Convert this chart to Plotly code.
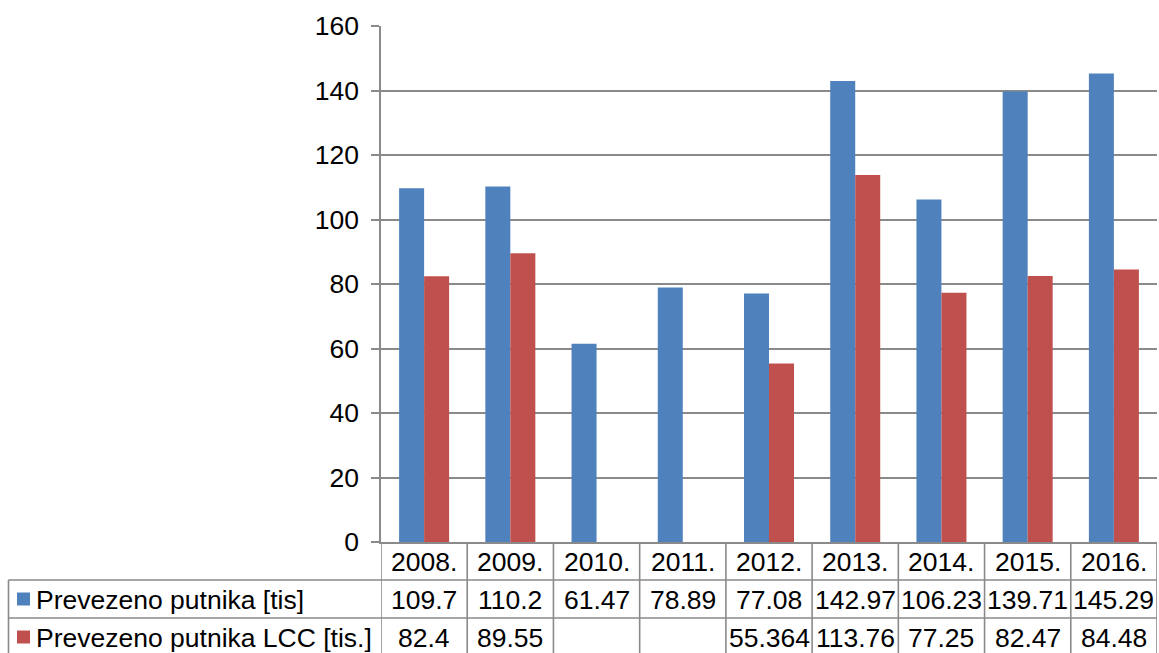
import plotly.graph_objects as go

categories = ["2008.", "2009.", "2010.", "2011.", "2012.", "2013.", "2014.", "2015.", "2016."]
series1_name = "Prevezeno putnika [tis]"
series1 = [109.7, 110.2, 61.47, 78.89, 77.08, 142.97, 106.23, 139.71, 145.29]
series2_name = "Prevezeno putnika LCC [tis.]"
series2 = [82.4, 89.55, None, None, 55.364, 113.76, 77.25, 82.47, 84.48]
y_ticks = [0, 20, 40, 60, 80, 100, 120, 140, 160]

BLUE = "#4F81BD"
RED = "#C0504D"
GRID = "#8a8a8a"
FONT = "Liberation Sans, Arial, sans-serif"
FS = 26.5

W, H = 1159, 653
ML, MR, MT, MB = 381, 2, 26, 653 - 542
PW = W - ML - MR
PH = H - MT - MB


def py(scr_y):
    # screen pixel y -> paper y
    return (H - MB - scr_y) / PH


def px(scr_x):
    return (scr_x - ML) / PW


fig = go.Figure()
fig.add_trace(go.Bar(x=categories, y=series1, name=series1_name, marker_color=BLUE,
                     marker_line_width=0))
fig.add_trace(go.Bar(x=categories, y=series2, name=series2_name, marker_color=RED,
                     marker_line_width=0))

shapes = []
line = dict(color=GRID, width=1.6)
# vertical table lines at category boundaries
for i in range(len(categories) + 1):
    shapes.append(dict(type="line", xref="x", yref="paper", x0=i - 0.5, x1=i - 0.5,
                       y0=0, y1=py(660), line=line))
# horizontal row lines
for yy in [580, 618]:
    shapes.append(dict(type="line", xref="paper", yref="paper", x0=px(8.5), x1=1,
                       y0=py(yy), y1=py(yy), line=line))
# legend column left border
shapes.append(dict(type="line", xref="paper", yref="paper", x0=px(8.5), x1=px(8.5),
                   y0=py(580), y1=py(660), line=line))
# legend keys
for yc, col in [(599, BLUE), (637, RED)]:
    shapes.append(dict(type="rect", xref="paper", yref="paper", x0=px(17), x1=px(30),
                       y0=py(yc + 6.5), y1=py(yc - 6.5), fillcolor=col, line=dict(width=0)))

annotations = []
fnt = dict(family=FONT, size=FS, color="black")
for i, c in enumerate(categories):
    annotations.append(dict(x=i, xref="x", y=py(562), yref="paper", text=c, showarrow=False,
                            font=fnt, xanchor="center", yanchor="middle"))
    annotations.append(dict(x=i, xref="x", y=py(600), yref="paper", text=str(series1[i]),
                            showarrow=False, font=fnt, xanchor="center", yanchor="middle"))
    if series2[i] is not None:
        annotations.append(dict(x=i, xref="x", y=py(638), yref="paper", text=str(series2[i]),
                                showarrow=False, font=fnt, xanchor="center", yanchor="middle"))
annotations.append(dict(x=px(34), xref="paper", y=py(600), yref="paper", text=series1_name,
                        showarrow=False, font=fnt, xanchor="left", yanchor="middle"))
annotations.append(dict(x=px(34), xref="paper", y=py(638), yref="paper", text=series2_name,
                        showarrow=False, font=fnt, xanchor="left", yanchor="middle"))

fig.update_layout(
    width=W, height=H,
    margin=dict(l=ML, r=MR, t=MT, b=MB, pad=0),
    paper_bgcolor="white", plot_bgcolor="white",
    barmode="group", bargap=0.42, bargroupgap=0,
    showlegend=False,
    font=dict(family=FONT, size=FS, color="black"),
    xaxis=dict(type="category", range=[-0.5, len(categories) - 0.5], showticklabels=False,
               showgrid=False, showline=True, linecolor=GRID, linewidth=1.6, ticks="",
               zeroline=False, fixedrange=True),
    yaxis=dict(range=[0, 160], tickvals=y_ticks, showgrid=True, gridcolor=GRID, gridwidth=1.6,
               showline=True, linecolor=GRID, linewidth=1.6, ticks="outside", ticklen=8,
               tickcolor=GRID, tickwidth=1.6, ticklabelstandoff=7, zeroline=False,
               tickfont=dict(family=FONT, size=FS, color="black")),
    shapes=shapes,
    annotations=annotations,
)

fig.write_html(
    "out.html",
    config={"displayModeBar": False},
    post_script="document.body.style.margin='0';document.body.style.overflow='hidden';",
)
